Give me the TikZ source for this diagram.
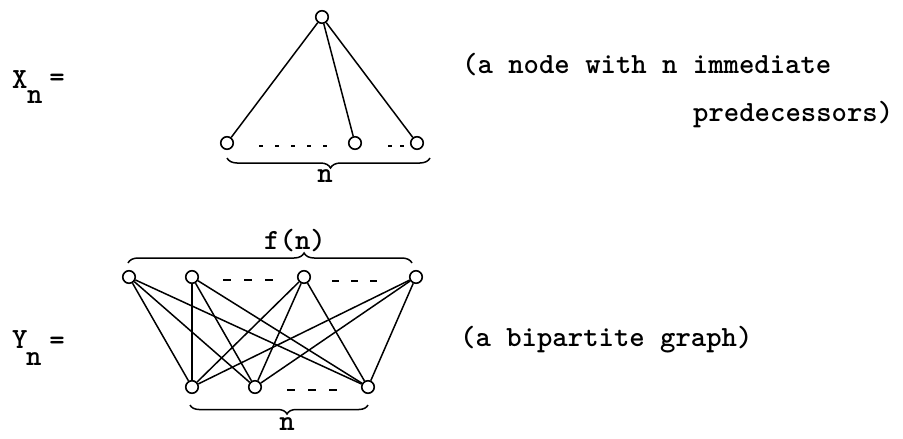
\documentclass[tikz,border=0pt]{standalone}
\usepackage{fontspec}
\usetikzlibrary{decorations.pathreplacing}
\begin{document}
\begin{tikzpicture}[x=1pt,y=-1pt,
  vtx/.style={circle,draw,line width=1.6pt,minimum size=12.5pt,inner sep=0pt},
  edge/.style={line width=1.5pt},
  dotline/.style={line width=1.3pt},
  bracestyle/.style={line width=1.5pt,decorate},
  txt/.style={font=\ttfamily\bfseries\fontsize{29.3}{34}\selectfont,inner sep=0pt,anchor=base west},
  lbl/.style={font=\ttfamily\bfseries\fontsize{29.3}{34}\selectfont,inner sep=0pt}]
\useasboundingbox (0,0) rectangle (903,439);

% ---------- X_n ----------
\node[txt] (xX) at (12,88) {X};
\node[txt] (xn) at (27,103) {n};
\node[lbl] (xeq) at (57,80) {=};

\node[vtx] (r)  at (322,17) {};
\node[vtx] (l1) at (227,143) {};
\node[vtx] (l2) at (355,143) {};
\node[vtx] (l3) at (417,143) {};
\draw[edge] (r) -- (l1);
\draw[edge] (r) -- (l2);
\draw[edge] (r) -- (l3);
\draw[dotline,dash pattern=on 4pt off 12pt] (259,146) -- (327,146);
\draw[dotline,dash pattern=on 4pt off 8pt] (388,146) -- (405,146);
\draw[bracestyle,decoration={brace,amplitude=10pt,aspect=0.49}] (430,158) -- (227,158);
\node[lbl] (xbn) at (325,176) {n};

\node[txt] (t1) at (462,73) {(a node with n immediate};
\node[txt] (t2) at (693,121) {predecessors)};

% ---------- Y_n ----------
\node[txt] (yY) at (12,348) {Y};
\node[txt] (yn) at (26,365) {n};
\node[lbl] (yeq) at (57,343) {=};

\node[vtx] (a1) at (129,277) {};
\node[vtx] (a2) at (192,277) {};
\node[vtx] (a3) at (304,277) {};
\node[vtx] (a4) at (416,277) {};
\node[vtx] (b1) at (192,387) {};
\node[vtx] (b2) at (255,387) {};
\node[vtx] (b3) at (368,387) {};
\foreach \t in {a1,a2,a3,a4}
  \foreach \b in {b1,b2,b3}
    \draw[edge] (\t) -- (\b);
\draw[dotline,dash pattern=on 8pt off 13pt] (223,280) -- (273,280);
\draw[dotline,dash pattern=on 7pt off 12pt] (332,281) -- (377,281);
\draw[dotline,dash pattern=on 8pt off 13pt] (287,390) -- (337,390);
\draw[bracestyle,decoration={brace,amplitude=10pt,aspect=0.62}] (128,263) -- (412,263);
\node[lbl] (fn) at (295,241) {f(n)};
\draw[bracestyle,decoration={brace,amplitude=9pt,aspect=0.455}] (368,405) -- (190,405);
\node[lbl] (ybn) at (287,424) {n};

\node[txt] (t3) at (460,346) {(a bipartite graph)};
\end{tikzpicture}
\end{document}
